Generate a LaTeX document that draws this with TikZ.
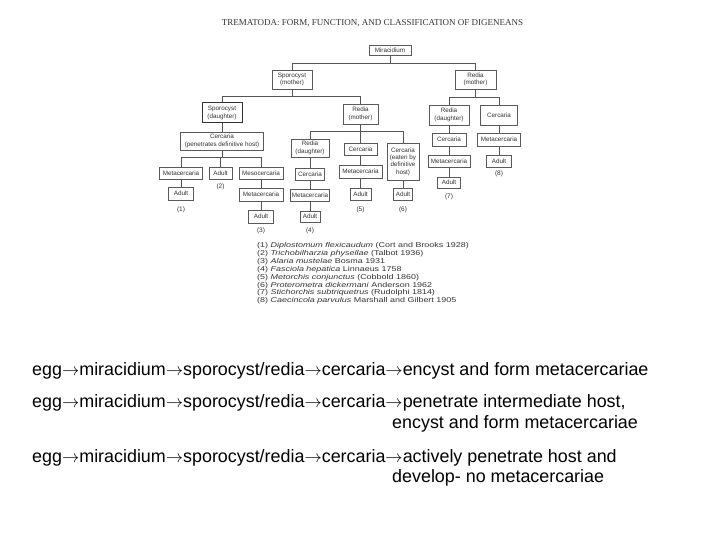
\documentclass[tikz,border=0pt]{standalone}
\usepackage{fontspec}
\setmainfont{Liberation Sans}
\newfontfamily\titlefont{Liberation Serif}
\newfontfamily\legfont[FakeStretch=1.28]{Liberation Sans}
\definecolor{boxgray}{HTML}{5A5A5A}
\definecolor{linegray}{HTML}{555555}
\definecolor{txtgray}{HTML}{333333}
\newcommand{\arr}{\(\rightarrow\)}
\begin{document}
\begin{tikzpicture}[x=1pt,y=-1pt,
  box/.style={draw=boxgray, line width=0.7pt, fill=white, inner sep=0pt, align=center,
    font=\fontsize{6.3}{7.4}\selectfont, text=txtgray},
  conn/.style={draw=linegray, line width=0.7pt},
  lbl/.style={inner sep=0pt, font=\fontsize{6.5}{7.5}\selectfont, text=txtgray},
  leg/.style={anchor=west, inner sep=0pt, font=\legfont\fontsize{7}{8}\selectfont, text=txtgray},
  big/.style={anchor=base west, inner sep=0pt, font=\fontsize{17.9}{20}\selectfont, text=black}]
\useasboundingbox[fill=white] (0,0) rectangle (720,540);

% title
\node[inner sep=0pt, text=txtgray, font=\titlefont\fontsize{9}{10}\selectfont] (title) at (372.5,23)
  {TREMATODA: FORM, FUNCTION, AND CLASSIFICATION OF DIGENEANS};

% level 0-1
\node[box, minimum width=42, minimum height=10] (mir) at (390,50) {Miracidium};
\node[box, minimum width=40, minimum height=19] (spm) at (292,79.5) {Sporocyst\\(mother)};
\node[box, minimum width=41, minimum height=19] (rdmR) at (475.5,79.5) {Redia\\(mother)};

% level 2
\node[box, minimum width=40, minimum height=20, line width=1pt, draw=black!80] (spd) at (222,113) {Sporocyst\\(daughter)};
\node[box, minimum width=35, minimum height=20] (rdmM) at (360.5,114) {Redia\\(mother)};
\node[box, minimum width=40, minimum height=20] (rddR) at (449,115) {Redia\\(daughter)};
\node[box, minimum width=37, minimum height=20] (cerR) at (499,115) {Cercaria};

% level 3
\node[box, minimum width=83, minimum height=18] (cerL) at (222,141) {Cercaria\\(penetrates definitive host)};
\node[box, minimum width=38, minimum height=18] (rddM) at (310,148) {Redia\\(daughter)};
\node[box, minimum width=33, minimum height=12] (cerM) at (360.5,149) {Cercaria};
\node[box, minimum width=32, minimum height=37] (cerE) at (403,161.5) {Cercaria\\(eaten by\\definitive\\host)};
\node[box, minimum width=34, minimum height=13] (cerR2) at (449,139.5) {Cercaria};
\node[box, minimum width=43, minimum height=13] (metR) at (499,139.5) {Metacercaria};

% level 4
\node[box, minimum width=43, minimum height=12] (metL) at (181,173) {Metacercaria};
\node[box, minimum width=23, minimum height=12] (adL) at (220.5,173) {Adult};
\node[box, minimum width=44, minimum height=12] (mesL) at (261,173) {Mesocercaria};
\node[box, minimum width=29, minimum height=12] (cerD) at (310,174) {Cercaria};
\node[box, minimum width=43, minimum height=13] (metM) at (360.5,171.5) {Metacercaria};
\node[box, minimum width=42, minimum height=12] (metR2) at (449,161) {Metacercaria};
\node[box, minimum width=25, minimum height=12] (adR) at (499,161) {Adult};

% level 5
\node[box, minimum width=25, minimum height=13] (adL1) at (181,193.5) {Adult};
\node[box, minimum width=44, minimum height=13] (metL3) at (261,194.5) {Metacercaria};
\node[box, minimum width=39, minimum height=12] (metD) at (310,195) {Metacercaria};
\node[box, minimum width=21, minimum height=12] (adM5) at (360.5,194) {Adult};
\node[box, minimum width=19, minimum height=12] (adE6) at (403,194) {Adult};
\node[box, minimum width=23, minimum height=11] (adR7) at (449,182.5) {Adult};

% level 6
\node[box, minimum width=25, minimum height=13] (adL3) at (261,216.5) {Adult};
\node[box, minimum width=20, minimum height=11] (adD) at (310,216.5) {Adult};

% numbers
\node[lbl] (n1) at (181,210) {(1)};
\node[lbl] (n2) at (220.5,187) {(2)};
\node[lbl] (n3) at (261,231) {(3)};
\node[lbl] (n4) at (310,231) {(4)};
\node[lbl] (n5) at (360.5,210) {(5)};
\node[lbl] (n6) at (403,210) {(6)};
\node[lbl] (n7) at (449,197) {(7)};
\node[lbl] (n8) at (499,174) {(8)};

% connectors
\draw[conn] (mir.south) -- ++(0,8) -| (spm.north);
\draw[conn] (mir.south) -- ++(0,8) -| (rdmR.north);
\draw[conn] (spm.south) -- ++(0,7) -| (spd.north);
\draw[conn] (spm.south) -- ++(0,7) -| (rdmM.north);
\draw[conn] (rdmR.south) -- ++(0,8) -| (rddR.north);
\draw[conn] (rdmR.south) -- ++(0,8) -| (cerR.north);
\draw[conn] (spd.south) -- (cerL.north);
\draw[conn] (cerL.south) -- ++(0,7) -| (metL.north);
\draw[conn] (cerL.south) -- ++(0,7) -| (adL.north);
\draw[conn] (cerL.south) -- ++(0,7) -| (mesL.north);
\draw[conn] (rdmM.south) -- ++(0,7) -| (rddM.north);
\draw[conn] (rdmM.south) -- (cerM.north);
\draw[conn] (rdmM.south) -- ++(0,7) -| (cerE.north);
\draw[conn] (rddR.south) -- (cerR2.north);
\draw[conn] (cerR.south) -- (metR.north);
\draw[conn] (metL.south) -- (adL1.north);
\draw[conn] (mesL.south) -- (metL3.north);
\draw[conn] (metL3.south) -- (adL3.north);
\draw[conn] (rddM.south) -- (cerD.north);
\draw[conn] (cerD.south) -- (metD.north);
\draw[conn] (metD.south) -- (adD.north);
\draw[conn] (cerM.south) -- (metM.north);
\draw[conn] (metM.south) -- (adM5.north);
\draw[conn] (cerE.south) -- (adE6.north);
\draw[conn] (cerR2.south) -- (metR2.north);
\draw[conn] (metR2.south) -- (adR7.north);
\draw[conn] (metR.south) -- (adR.north);

% legend
\node[leg] (l1) at (257,246) {(1) \textit{Diplostomum flexicaudum} (Cort and Brooks 1928)};
\node[leg] (l2) at (257,253.9) {(2) \textit{Trichobilharzia physellae} (Talbot 1936)};
\node[leg] (l3) at (257,261.7) {(3) \textit{Alaria mustelae} Bosma 1931};
\node[leg] (l4) at (257,269.6) {(4) \textit{Fasciola hepatica} Linnaeus 1758};
\node[leg] (l5) at (257,277.4) {(5) \textit{Metorchis conjunctus} (Cobbold 1860)};
\node[leg] (l6) at (257,285.3) {(6) \textit{Proterometra dickermani} Anderson 1962};
\node[leg] (l7) at (257,293.1) {(7) \textit{Stichorchis subtriquetrus} (Rudolphi 1814)};
\node[leg] (l8) at (257,301) {(8) \textit{Caecincola parvulus} Marshall and Gilbert 1905};

% bottom text
\node[big] (t1) at (32,375) {egg\arr miracidium\arr sporocyst/redia\arr cercaria\arr encyst and form metacercariae};
\node[big] (t2) at (32,407) {egg\arr miracidium\arr sporocyst/redia\arr cercaria\arr penetrate intermediate host,};
\node[big] (t3) at (392,428) {encyst and form metacercariae};
\node[big] (t4) at (32,462) {egg\arr miracidium\arr sporocyst/redia\arr cercaria\arr actively penetrate host and};
\node[big] (t5) at (392,482) {develop- no metacercariae};
\end{tikzpicture}
\end{document}
